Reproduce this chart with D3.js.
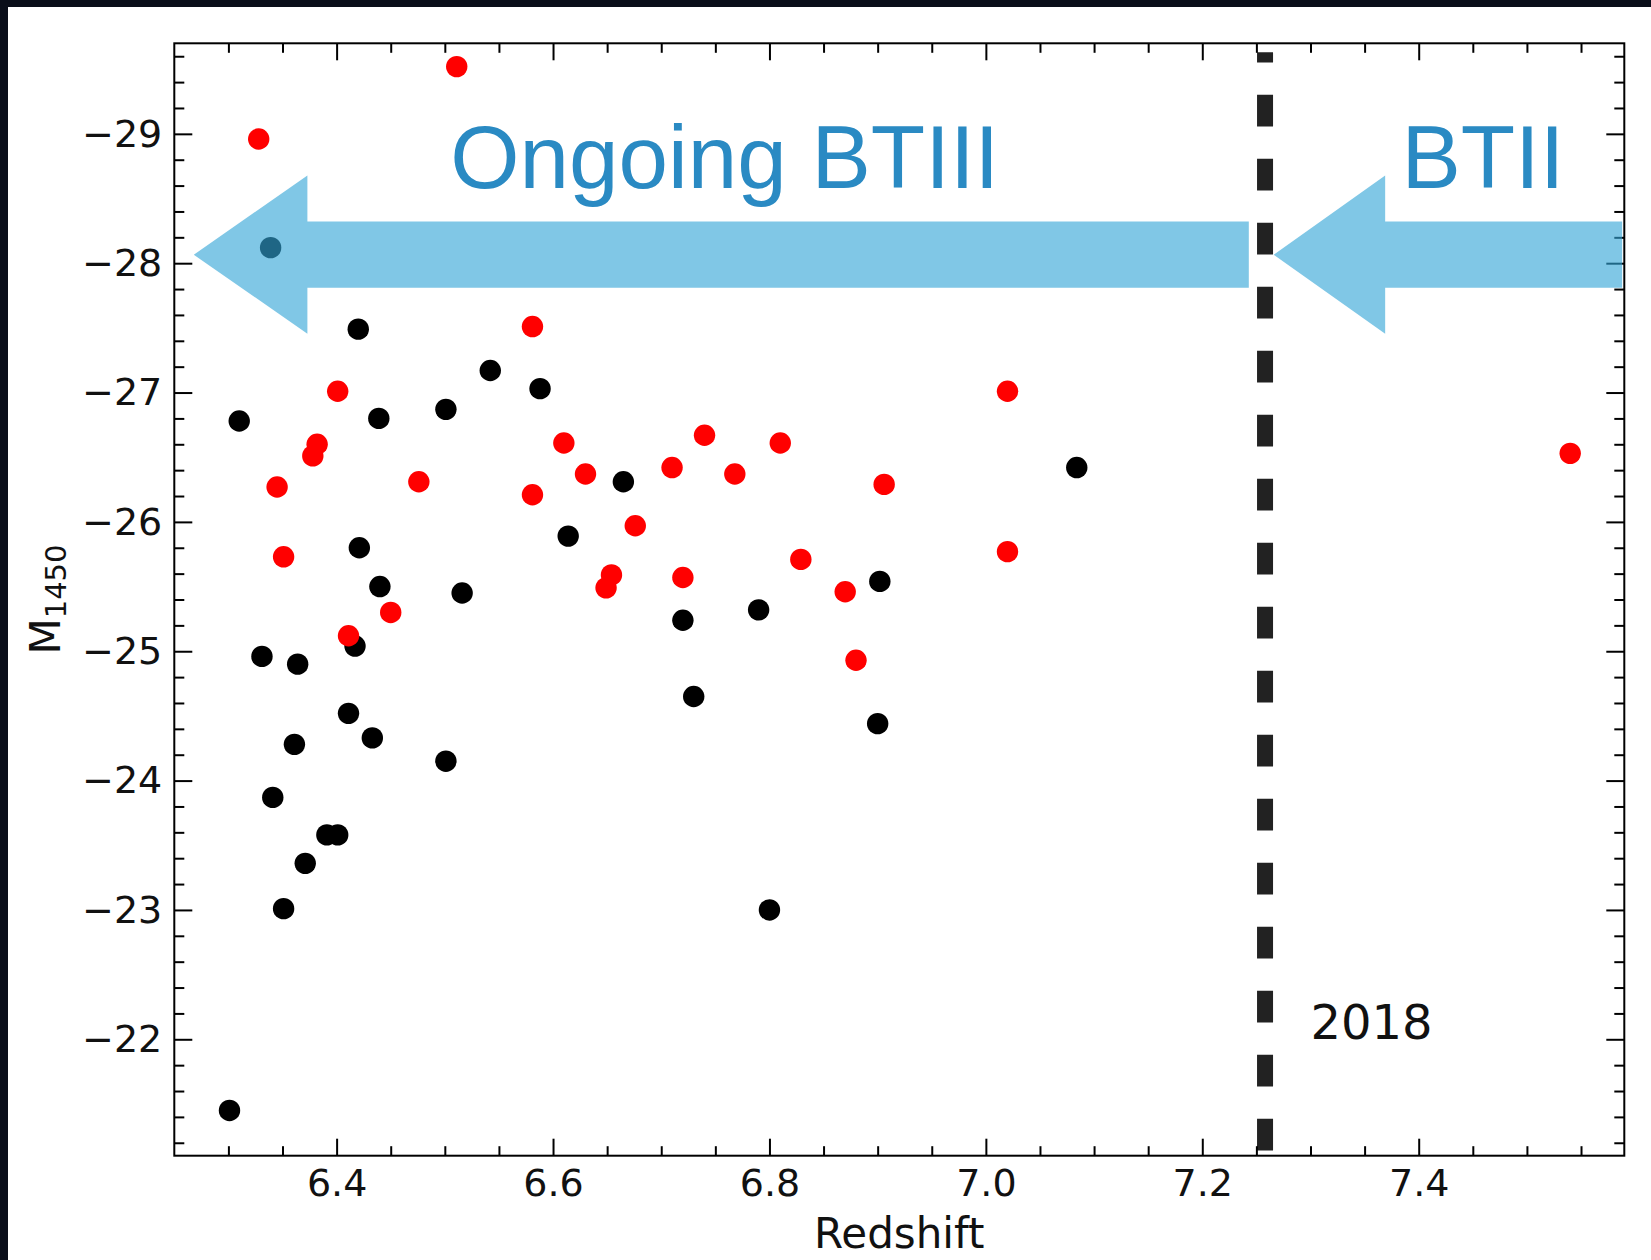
<!DOCTYPE html>
<html>
<head>
<meta charset="utf-8">
<script src="https://cdn.jsdelivr.net/npm/d3@7"></script>
<style>
  html, body { margin: 0; padding: 0; background: #ffffff; }
  svg { display: block; }
</style>
</head>
<body>
<svg id="chart" width="1651" height="1260"></svg>
<script>
// Quasar redshift vs. absolute UV magnitude M1450.
// Red and black markers are two quasar samples.
const redshiftRed = [6.511, 6.328, 6.581, 6.401, 6.382, 6.378, 6.610, 6.630, 6.345, 6.476,
                     6.581, 6.351, 6.450, 6.411, 7.020, 6.740, 6.810, 6.710, 6.768, 6.906,
                     7.540, 6.676, 7.020, 6.829, 6.654, 6.649, 6.720, 6.870, 6.880];
const magRed      = [-29.52, -28.96, -27.51, -27.01, -26.60, -26.51, -26.61, -26.37, -26.27, -26.31,
                     -26.21, -25.73, -25.30, -25.12, -27.01, -26.67, -26.61, -26.42, -26.37, -26.29,
                     -26.53, -25.97, -25.77, -25.71, -25.59, -25.49, -25.57, -25.46, -24.93];

const redshiftBlack = [6.339, 6.420, 6.542, 6.588, 6.310, 6.439, 6.501, 6.665, 6.614, 6.421,
                       6.440, 6.516, 6.417, 6.331, 6.364, 6.411, 6.433, 6.361, 6.501, 6.341,
                       6.391, 6.401, 6.371, 6.351, 6.301, 7.084, 6.902, 6.790, 6.720, 6.730,
                       6.900, 6.800];
const magBlack      = [-28.12, -27.49, -27.17, -27.03, -26.78, -26.80, -26.87, -26.31, -25.89, -25.80,
                       -25.50, -25.45, -25.04, -24.96, -24.90, -24.52, -24.33, -24.28, -24.15, -23.87,
                       -23.58, -23.58, -23.36, -23.01, -21.45, -26.42, -25.54, -25.32, -25.24, -24.65,
                       -24.44, -23.00];

const xMajorTicks = [6.4, 6.6, 6.8, 7.0, 7.2, 7.4];
const yMajorTicks = [-29, -28, -27, -26, -25, -24, -23, -22];
const zDomain = [6.25, 7.59];
const mDomain = [-29.7, -21.1];   // brighter magnitudes at the top

// 2018 redshift frontier
const cutRedshift = 7.258;
const cutSpan = [-21.14, -29.63];
const cutLabel = { text: "2018", z: 7.30, m: -22 };

// Region arrows (redshift of tip, head base, tail) and region names
const arrowTipZ  = [6.268, 7.266];
const arrowBackZ = [6.373, 7.369];
const arrowEndZ  = [7.243, 7.588];
const arrowMidM = -28.066;
const arrowShaftM = [-28.322, -27.810];
const arrowHeadM  = [-28.678, -27.454];
const regionNames = ["Ongoing BTIII", "BTII"];
const regionNameZ = [6.505, 7.384];
const regionNameM = -28.583;

const W = 1651, H = 1260;
const frame = { left: 174.3, right: 1624.3, top: 43.3, bottom: 1155.7 };

const svg = d3.select("#chart");
const x = d3.scaleLinear().domain(zDomain).range([frame.left, frame.right]);
const y = d3.scaleLinear().domain(mDomain).range([frame.top, frame.bottom]);

// dark slide background peeking in at the top and left edges
svg.append("rect").attr("x", 0).attr("y", 0).attr("width", W).attr("height", H).attr("fill", "#ffffff");
svg.append("rect").attr("x", 0).attr("y", 0).attr("width", W).attr("height", 7).attr("fill", "#0a0e1a");
svg.append("rect").attr("x", 0).attr("y", 0).attr("width", 8).attr("height", H).attr("fill", "#0a0e1a");

const FONT = "'DejaVu Sans', sans-serif";
const R = 10.7;

// markers: black sample first, red sample drawn on top
svg.append("g").selectAll("circle")
  .data(d3.zip(redshiftBlack, magBlack))
  .join("circle")
  .attr("cx", d => x(d[0])).attr("cy", d => y(d[1])).attr("r", R)
  .attr("fill", "#000000");

svg.append("g").selectAll("circle")
  .data(d3.zip(redshiftRed, magRed))
  .join("circle")
  .attr("cx", d => x(d[0])).attr("cy", d => y(d[1])).attr("r", R)
  .attr("fill", "#ff0000");

// dashed vertical line, drawn bottom-up so the dash pattern starts at the bottom
svg.append("path")
  .attr("d", d3.line()([[x(cutRedshift), y(cutSpan[0])], [x(cutRedshift), y(cutSpan[1])]]))
  .attr("stroke", "#222222").attr("stroke-width", 16)
  .attr("stroke-dasharray", "31.7,32.3").attr("fill", "none");

svg.append("text")
  .attr("x", x(cutLabel.z)).attr("y", y(cutLabel.m))
  .attr("font-family", FONT).attr("font-size", 48).attr("fill", "#111111")
  .text(cutLabel.text);

// axes: inward ticks on all four sides
const xMinor = d3.range(126, 152).filter(i => i % 4 !== 0).map(i => i * 0.05);
const yMinor = d3.range(-148, -105).filter(i => i % 5 !== 0).map(i => i * 0.2);
const fmtY = d => "\u2212" + Math.abs(d);

function styleAxis(g) {
  g.select(".domain").remove();
  g.selectAll(".tick line").attr("stroke", "#000").attr("stroke-width", 2);
  g.selectAll("text").attr("font-family", FONT).attr("font-size", 38).attr("fill", "#111");
  g.attr("font-family", null).attr("font-size", null);
}

svg.append("g").attr("transform", `translate(0,${frame.bottom})`)
  .call(d3.axisBottom(x).tickValues(xMajorTicks).tickSize(-17).tickSizeOuter(0)
        .tickPadding(13).tickFormat(d => d.toFixed(1)))
  .call(styleAxis);
svg.append("g").attr("transform", `translate(0,${frame.bottom})`)
  .call(d3.axisBottom(x).tickValues(xMinor).tickSize(-9.5).tickSizeOuter(0).tickFormat(""))
  .call(styleAxis);
svg.append("g").attr("transform", `translate(0,${frame.top})`)
  .call(d3.axisTop(x).tickValues(xMajorTicks).tickSize(-17).tickSizeOuter(0).tickFormat(""))
  .call(styleAxis);
svg.append("g").attr("transform", `translate(0,${frame.top})`)
  .call(d3.axisTop(x).tickValues(xMinor).tickSize(-9.5).tickSizeOuter(0).tickFormat(""))
  .call(styleAxis);

svg.append("g").attr("transform", `translate(${frame.left},0)`)
  .call(d3.axisLeft(y).tickValues(yMajorTicks).tickSize(-18).tickSizeOuter(0)
        .tickPadding(12).tickFormat(fmtY))
  .call(styleAxis);
svg.append("g").attr("transform", `translate(${frame.left},0)`)
  .call(d3.axisLeft(y).tickValues(yMinor).tickSize(-10).tickSizeOuter(0).tickFormat(""))
  .call(styleAxis);
svg.append("g").attr("transform", `translate(${frame.right},0)`)
  .call(d3.axisRight(y).tickValues(yMajorTicks).tickSize(-18).tickSizeOuter(0).tickFormat(""))
  .call(styleAxis);
svg.append("g").attr("transform", `translate(${frame.right},0)`)
  .call(d3.axisRight(y).tickValues(yMinor).tickSize(-10).tickSizeOuter(0).tickFormat(""))
  .call(styleAxis);

svg.append("rect")
  .attr("x", frame.left).attr("y", frame.top)
  .attr("width", frame.right - frame.left).attr("height", frame.bottom - frame.top)
  .attr("fill", "none").attr("stroke", "#000").attr("stroke-width", 2);

// axis titles
svg.append("text")
  .attr("x", (frame.left + frame.right) / 2).attr("y", 1248)
  .attr("text-anchor", "middle")
  .attr("font-family", FONT).attr("font-size", 42).attr("fill", "#111")
  .text("Redshift");

const ylab = svg.append("text")
  .attr("transform", `translate(60,${(frame.top + frame.bottom) / 2}) rotate(-90)`)
  .attr("text-anchor", "middle")
  .attr("font-family", FONT).attr("font-size", 42).attr("fill", "#111");
ylab.append("tspan").text("M");
ylab.append("tspan").attr("font-size", 29).attr("dy", 6).text("1450");

// translucent region arrows
const arrowG = svg.append("g").attr("fill", "rgb(50,165,215)").attr("fill-opacity", 0.62);
arrowTipZ.forEach((tip, i) => {
  const pts = [
    [x(tip), y(arrowMidM)],
    [x(arrowBackZ[i]), y(arrowHeadM[0])],
    [x(arrowBackZ[i]), y(arrowShaftM[0])],
    [x(arrowEndZ[i]), y(arrowShaftM[0])],
    [x(arrowEndZ[i]), y(arrowShaftM[1])],
    [x(arrowBackZ[i]), y(arrowShaftM[1])],
    [x(arrowBackZ[i]), y(arrowHeadM[1])]
  ];
  arrowG.append("path").attr("d", d3.line()(pts) + "Z");
});

svg.append("g").selectAll("text")
  .data(regionNames)
  .join("text")
  .attr("x", (d, i) => x(regionNameZ[i])).attr("y", y(regionNameM))
  .attr("font-family", "'Liberation Sans', Arial, sans-serif")
  .attr("font-size", 89).attr("fill", "#2a8ac3")
  .text(d => d);
</script>
</body>
</html>
